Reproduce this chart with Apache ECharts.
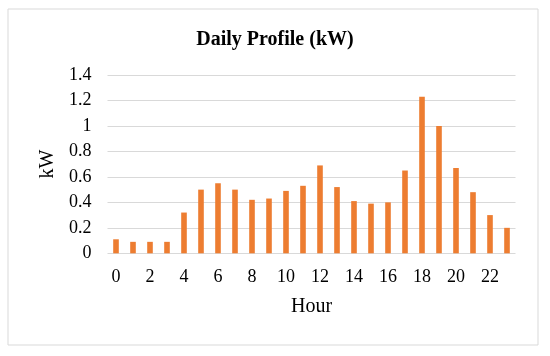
<!DOCTYPE html>
<html><head><meta charset="utf-8">
<script src="https://cdn.jsdelivr.net/npm/echarts@6/dist/echarts.min.js"></script>
<style>html,body{margin:0;padding:0;background:#fff}#c{width:550px;height:356px}</style>
</head><body><div id="c"></div>
<script>
var hours = ['0','1','2','3','4','5','6','7','8','9','10','11','12','13','14','15','16','17','18','19','20','21','22','23'];
var kw = [0.11,0.09,0.09,0.09,0.32,0.50,0.55,0.50,0.42,0.43,0.49,0.53,0.69,0.52,0.41,0.39,0.40,0.65,1.23,1.00,0.67,0.48,0.30,0.20];
var yTicks = [0,0.2,0.4,0.6,0.8,1,1.2,1.4];
var chart = echarts.init(document.getElementById('c'), null, {renderer:'canvas'});
var font = '"Liberation Serif","Times New Roman",serif';
chart.setOption({
  animation:false,
  backgroundColor:'#fff',
  graphic:[{type:'rect',shape:{x:8,y:9,width:530,height:336},style:{fill:'none',stroke:'#d9d9d9',lineWidth:1}}],
  title:{text:'Daily Profile (kW)',left:'center',top:30,padding:0,textStyle:{fontFamily:font,fontSize:20,fontWeight:'bold',color:'#000'}},
  grid:{left:107.5,right:34.5,top:75,bottom:102.7},
  xAxis:{type:'category',data:hours,name:'Hour',nameLocation:'middle',nameGap:43,
    nameTextStyle:{fontFamily:font,fontSize:20,color:'#000'},
    axisLine:{show:false},axisTick:{show:false},
    axisLabel:{interval:1,fontFamily:font,fontSize:18,color:'#000',margin:15}},
  yAxis:{type:'value',min:yTicks[0],max:yTicks[yTicks.length-1],interval:0.2,name:'kW',nameLocation:'middle',nameGap:50,
    nameTextStyle:{fontFamily:font,fontSize:20,color:'#000'},
    axisLine:{show:false},axisTick:{show:false},
    splitLine:{lineStyle:{color:'#d9d9d9',width:1}},
    axisLabel:{fontFamily:font,fontSize:18,color:'#000',margin:16,formatter:function(v){return String(Math.round(v*10)/10);}}},
  series:[{type:'bar',data:kw,barWidth:'33%',itemStyle:{color:'#ED7D31'}}]
});
</script></body></html>
